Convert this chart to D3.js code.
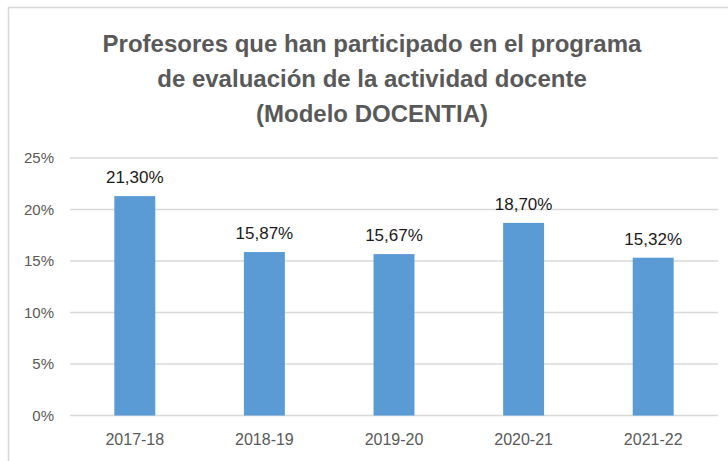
<!DOCTYPE html>
<html>
<head>
<meta charset="utf-8">
<script src="https://cdn.jsdelivr.net/npm/d3@7"></script>
<style>
  body { margin: 0; background: #fff; }
  svg { display: block; font-family: "Liberation Sans", Arial, sans-serif; }
</style>
</head>
<body>
<div id="chart"></div>
<script>
const categories = ["2017-18", "2018-19", "2019-20", "2020-21", "2021-22"];
const values = [21.30, 15.87, 15.67, 18.70, 15.32];
const yTicks = [0, 5, 10, 15, 20, 25];
const titleLines = [
  "Profesores que han participado en el programa",
  "de evaluación de la actividad docente",
  "(Modelo DOCENTIA)"
];

const width = 728, height = 461;
const svg = d3.select("#chart").append("svg")
  .attr("width", width)
  .attr("height", height);

// chart area border (only the top and left edges are visible in the frame)
svg.append("rect")
  .attr("x", 8.5).attr("y", 7.5)
  .attr("width", 760).attr("height", 500)
  .attr("fill", "none")
  .attr("stroke", "#d9d9d9")
  .attr("stroke-width", 1.5);

const x = d3.scaleBand()
  .domain(categories)
  .range([70, 718])
  .paddingInner(0.684)
  .paddingOuter(0.342);

const y = d3.scaleLinear()
  .domain([0, 25])
  .range([415.5, 158]);

// gridlines
svg.append("g")
  .selectAll("line")
  .data(yTicks)
  .join("line")
  .attr("x1", 70).attr("x2", 718)
  .attr("y1", d => y(d)).attr("y2", d => y(d))
  .attr("stroke", "#d9d9d9")
  .attr("stroke-width", 1.5);

// y axis labels
const yAxis = svg.append("g")
  .attr("transform", "translate(70,0)")
  .call(d3.axisLeft(y).tickValues(yTicks).tickFormat(d => d + "%").tickSize(0).tickPadding(16));
yAxis.select(".domain").remove();
yAxis.selectAll("text")
  .attr("fill", "#595959")
  .style("font-size", "15px")
  .style("font-family", "Liberation Sans, Arial, sans-serif");

// x axis labels
const xAxis = svg.append("g")
  .attr("transform", `translate(0,${y(0)})`)
  .call(d3.axisBottom(x).tickSize(0).tickPadding(18));
xAxis.select(".domain").remove();
xAxis.selectAll("text")
  .attr("fill", "#595959")
  .style("font-size", "16px")
  .style("font-family", "Liberation Sans, Arial, sans-serif");

// bars
svg.append("g")
  .selectAll("rect")
  .data(values)
  .join("rect")
  .attr("x", (d, i) => x(categories[i]))
  .attr("width", x.bandwidth())
  .attr("y", d => y(d))
  .attr("height", d => y(0) - y(d))
  .attr("fill", "#5b9bd5");

// value labels
svg.append("g")
  .selectAll("text")
  .data(values)
  .join("text")
  .attr("x", (d, i) => x(categories[i]) + x.bandwidth() / 2)
  .attr("y", d => y(d) - 13)
  .attr("text-anchor", "middle")
  .attr("fill", "#1a1a1a")
  .style("font-size", "17px")
  .text(d => d.toFixed(2).replace(".", ",") + "%");

// title
svg.append("g")
  .selectAll("text")
  .data(titleLines)
  .join("text")
  .attr("x", 372)
  .attr("y", (d, i) => 52 + i * 35)
  .attr("text-anchor", "middle")
  .attr("fill", "#595959")
  .style("font-size", "24px")
  .style("font-weight", "bold")
  .text(d => d);
</script>
</body>
</html>
